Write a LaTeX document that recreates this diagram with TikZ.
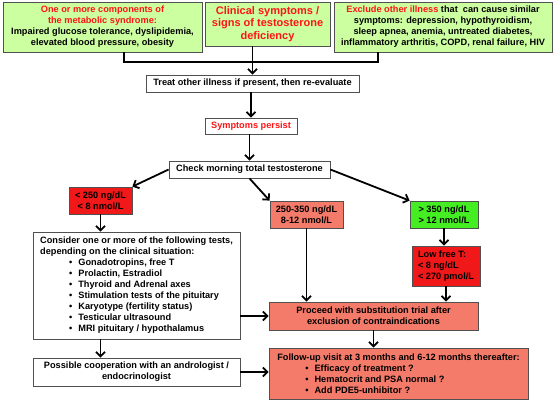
\documentclass[tikz,border=0pt]{standalone}
\usepackage{fontspec}
\setmainfont{Liberation Sans}
\usetikzlibrary{arrows.meta}
\definecolor{paleg}{RGB}{204,255,160}
\definecolor{boxred}{RGB}{240,24,24}
\definecolor{salmon}{RGB}{244,122,106}
\definecolor{brightg}{RGB}{68,238,34}
\definecolor{txtred}{RGB}{255,20,20}
\definecolor{edge}{RGB}{80,80,80}
\begin{document}
\begin{tikzpicture}[x=1pt,y=-1pt,
  box/.style={draw=edge, line width=0.8pt, inner sep=0pt, align=center,
    font=\fontsize{9.2}{11}\selectfont\bfseries},
  arr/.style={line width=1.8pt, -{Straight Barb[length=4.5pt,width=9pt]}},
  plain/.style={line width=1.8pt}]
\useasboundingbox (0,0) rectangle (553,400);
% top row
\node[box, fill=paleg, minimum width=199pt, minimum height=50pt] (meta) at (102.5,27)
  {\textcolor{txtred}{One or more components of}\\\textcolor{txtred}{the metabolic syndrome:}\\Impaired glucose tolerance, dyslipidemia,\\elevated blood pressure, obesity};
\node[box, fill=paleg, minimum width=125pt, minimum height=44pt,
  font=\fontsize{11}{12.5}\selectfont\bfseries, text=txtred] (clin) at (267.5,24)
  {Clinical symptoms /\\signs of testosterone\\deficiency};
\node[box, fill=paleg, minimum width=218pt, minimum height=50pt] (excl) at (443,27)
  {\textcolor{txtred}{Exclude other illness} that\ \ can cause similar\\symptoms: depression, hypothyroidism,\\sleep apnea, anemia, untreated diabetes,\\inflammatory arthritis, COPD, renal failure, HIV};
% middle column
\node[box, fill=white, minimum width=213pt, minimum height=17pt] (treat) at (252.5,83.5)
  {Treat other illness if present, then re-evaluate};
\node[box, fill=white, minimum width=92pt, minimum height=16pt, text=txtred] (persist) at (251,126)
  {Symptoms persist};
\node[box, fill=white, minimum width=161pt, minimum height=17pt] (check) at (249.5,169.5)
  {Check morning total testosterone};
% level boxes
\node[box, fill=boxred, minimum width=63pt, minimum height=27pt] (low) at (100.5,200.5)
  {< 250 ng/dL\\< 8 nmol/L};
\node[box, fill=salmon, minimum width=73pt, minimum height=27pt] (mid) at (306.5,214.5)
  {250-350 ng/dL\\8-12 nmol/L};
\node[box, fill=brightg, minimum width=68pt, minimum height=27pt] (high) at (444,214.5)
  {> 350 ng/dL\\> 12 nmol/L};
\node[box, fill=boxred, minimum width=68pt, minimum height=40pt, align=left] (freeT) at (446,266)
  {Low free T:\\< 8 ng/dL\\< 270 pmol/L};
% left column
\node[box, fill=white, minimum width=207pt, minimum height=107pt, align=left,
  inner ysep=1pt] (consider) at (136.5,285.5)
  {Consider one or more of the following tests,\\
   depending on the clinical situation:\\
   \hspace*{29pt}\textbullet\hspace{6pt}Gonadotropins, free T\\
   \hspace*{29pt}\textbullet\hspace{6pt}Prolactin, Estradiol\\
   \hspace*{29pt}\textbullet\hspace{6pt}Thyroid and Adrenal axes\\
   \hspace*{29pt}\textbullet\hspace{6pt}Stimulation tests of the pituitary\\
   \hspace*{29pt}\textbullet\hspace{6pt}Karyotype (fertility status)\\
   \hspace*{29pt}\textbullet\hspace{6pt}Testicular ultrasound\\
   \hspace*{29pt}\textbullet\hspace{6pt}MRI pituitary / hypothalamus};
\node[box, fill=white, minimum width=207pt, minimum height=28pt] (coop) at (136.5,372)
  {Possible cooperation with an andrologist /\\endocrinologist};
% right lower
\node[box, fill=salmon, minimum width=209pt, minimum height=28pt] (proceed) at (373.5,316)
  {Proceed with substitution trial after\\exclusion of contraindications};
\node[box, fill=salmon, minimum width=259pt, minimum height=51pt, align=left] (follow) at (398.5,373.5)
  {Follow-up visit at 3 months and 6-12 months thereafter:\\
   \hspace*{28pt}\textbullet\hspace{6pt}Efficacy of treatment ?\\
   \hspace*{28pt}\textbullet\hspace{6pt}Hematocrit and PSA normal ?\\
   \hspace*{28pt}\textbullet\hspace{6pt}Add PDE5-unhibitor ?};
% connectors
\coordinate (j1) at (124,62);
\coordinate (j2) at (378,62);
\draw[plain] (meta.south -| j1) -- (j1) -- (j2) -- (excl.south -| j2);
\draw[arr] (clin.south -| treat.north) -- (treat.north);
\draw[arr] (treat.south -| persist.north) -- (persist.north);
\draw[arr] (persist.south -| check.north) -- (check.north);
\draw[arr] (check.west) -- (low.north east);
\draw[arr] (check.south) -- (mid.north west);
\draw[arr] (check.east) -- (high.north west);
\draw[arr] (low.south) -- (low.south |- consider.north);
\draw[arr] (consider.south -| low.south) -- (coop.north -| low.south);
\draw[arr] (high.south) -- (high.south |- freeT.north);
\draw[arr] (mid.south) -- (mid.south |- proceed.north);
\draw[arr] (freeT.south) -- (freeT.south |- proceed.north);
\draw[arr] (consider.east |- proceed.west) -- (proceed.west);
\draw[arr] (proceed.south) -- (proceed.south |- follow.north);
\draw[arr] (coop.east) -- (coop.east -| follow.west);
\end{tikzpicture}
\end{document}
